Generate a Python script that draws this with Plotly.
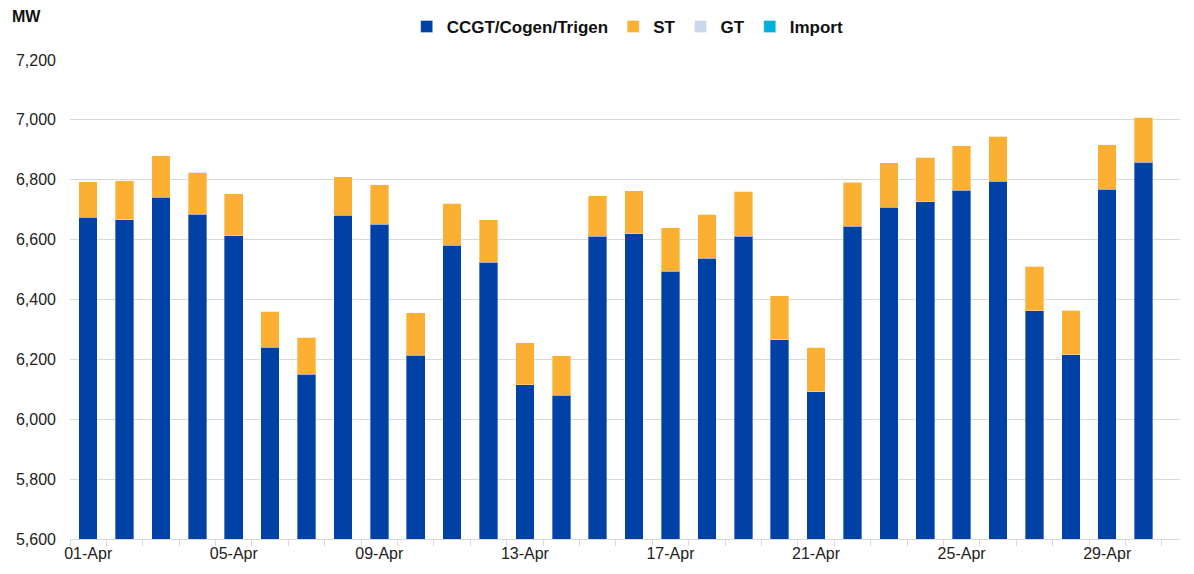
import plotly.graph_objects as go

days = ["01-Apr", "02-Apr", "03-Apr", "04-Apr", "05-Apr", "06-Apr", "07-Apr", "08-Apr",
        "09-Apr", "10-Apr", "11-Apr", "12-Apr", "13-Apr", "14-Apr", "15-Apr", "16-Apr",
        "17-Apr", "18-Apr", "19-Apr", "20-Apr", "21-Apr", "22-Apr", "23-Apr", "24-Apr",
        "25-Apr", "26-Apr", "27-Apr", "28-Apr", "29-Apr", "30-Apr"]

ccgt = [6674, 6666, 6742, 6684, 6613, 6241, 6150, 6682, 6652, 6214,
        6582, 6524, 6115, 6080, 6612, 6620, 6495, 6537, 6612, 6265,
        6092, 6644, 6708, 6726, 6765, 6795, 6362, 6216, 6768, 6859]
st = [119, 131, 139, 139, 140, 120, 124, 128, 132, 142,
      140, 142, 140, 132, 134, 144, 144, 147, 149, 147,
      148, 147, 148, 150, 148, 150, 149, 148, 149, 149]
gt = [0, 0, 0, 3, 0, 0, 0, 0, 0, 0,
      0, 0, 0, 0, 0, 0, 0, 0, 0, 0,
      0, 3, 0, 0, 0, 0, 0, 0, 0, 0]
imp = [0] * 30

series = [
    ("CCGT/Cogen/Trigen", ccgt, "#0041A6"),
    ("ST", st, "#FBB034"),
    ("GT", gt, "#C9D8EC"),
    ("Import", imp, "#00AEDB"),
]

x = list(range(len(days)))
tick_idx = list(range(0, len(days), 4))

fig = go.Figure()
for name, vals, color in series:
    fig.add_trace(go.Bar(
        x=x, y=vals, name=name,
        marker=dict(color=color, line=dict(color="rgba(255,255,255,0.35)", width=1)),
    ))

fig.update_layout(
    barmode="stack",
    bargap=0.49,
    width=1194, height=574,
    margin=dict(l=62, r=22, t=52, b=43, autoexpand=False),
    plot_bgcolor="white", paper_bgcolor="white",
    font=dict(family="Liberation Sans, Arial", size=15, color="#222222"),
    legend=dict(
        orientation="h", x=0.519, xref="container", xanchor="center",
        y=0.967, yref="container", yanchor="middle",
        font=dict(family="Liberation Sans, Arial", size=17, color="#111111", weight="bold"),
        itemwidth=30, traceorder="normal",
    ),
    annotations=[dict(
        text="<b>MW</b>", xref="paper", yref="paper", x=-0.054, y=1.0898,
        xanchor="left", yanchor="middle", showarrow=False,
        font=dict(family="Liberation Sans, Arial", size=16, color="#111111"),
    )],
)

fig.update_yaxes(
    range=[5600, 7200], dtick=200, tickformat=",",
    showgrid=True, gridcolor="#D9D9D9", gridwidth=1,
    zeroline=False, showline=False, ticks="", automargin=False,
    ticklabelstandoff=13,
    tickfont=dict(size=16, color="#222222"),
)
fig.update_xaxes(
    range=[-0.5, 30.0],
    tickvals=[x[i] for i in tick_idx],
    ticktext=[days[i] for i in tick_idx],
    ticks="", automargin=False,
    showgrid=False, zeroline=False,
    showline=True, linecolor="#D9D9D9", linewidth=1,
    tickfont=dict(size=16, color="#222222"),
    minor=dict(ticks="outside", tick0=-0.5, dtick=1, ticklen=6, tickcolor="#D9D9D9", showgrid=False),
)

fig.write_html("out.html")
